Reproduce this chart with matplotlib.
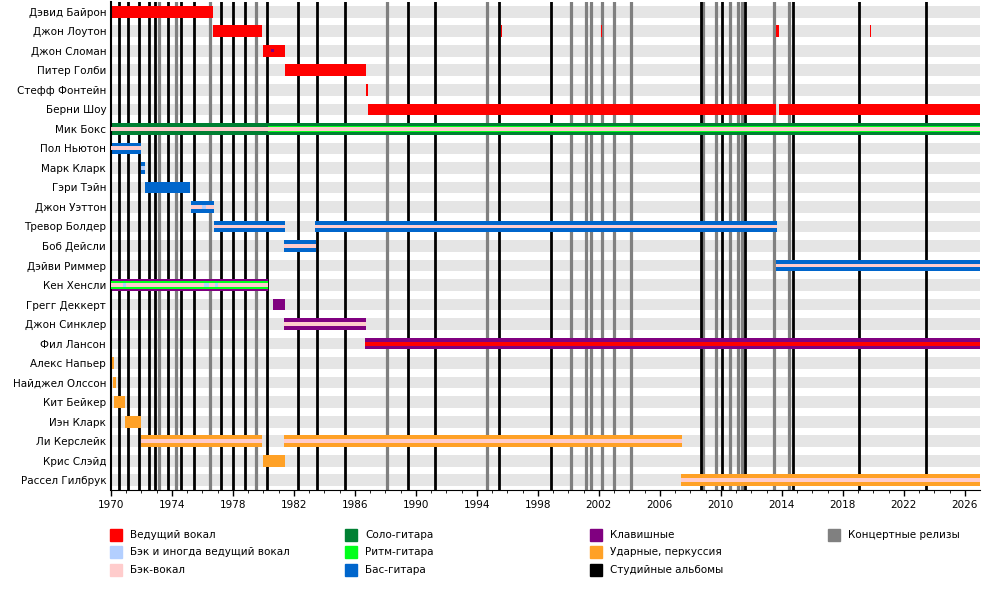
import matplotlib.pyplot as plt
from matplotlib.patches import Rectangle

members = ['Дэвид Байрон', 'Джон Лоутон', 'Джон Сломан', 'Питер Голби', 'Стефф Фонтейн',
           'Берни Шоу', 'Мик Бокс', 'Пол Ньютон', 'Марк Кларк', 'Гэри Тэйн', 'Джон Уэттон',
           'Тревор Болдер', 'Боб Дейсли', 'Дэйви Риммер', 'Кен Хенсли', 'Грегг Деккерт',
           'Джон Синклер', 'Фил Лансон', 'Алекс Напьер', 'Найджел Олссон', 'Кит Бейкер',
           'Иэн Кларк', 'Ли Керслейк', 'Крис Слэйд', 'Рассел Гилбрук']

END = 2027.0
studio = [1970.52, 1971.13, 1971.82, 1972.51, 1972.89, 1973.76, 1974.59, 1975.46, 1977.21,
          1978.02, 1978.80, 1980.25, 1982.28, 1983.52, 1985.38, 1989.49, 1991.26, 1995.45,
          1998.85, 2008.69, 2010.07, 2011.57, 2014.71, 2019.04, 2023.43]
live = [1973.17, 1974.26, 1976.49, 1979.50, 1988.11, 1994.66, 2000.16, 2001.15, 2001.47,
        2002.19, 2002.98, 2004.09, 2008.83, 2009.69, 2010.6, 2011.13, 2011.39, 2013.47, 2014.45]

colors = {
    'lead': '#ff0000', 'leadback': '#b3cfff', 'back': '#ffcccc', 'solo': '#008033',
    'rhythm': '#00ff1a', 'bass': '#0066cc', 'keys': '#800080', 'drums': '#ffa126',
    'live': '#808080', 'studio': '#000000',
}

# (row, start, end, main role, centre stripe)
spans = [
    (0, 1970.0, 1976.69, 'lead', None),
    (1, 1976.69, 1979.9, 'lead', None),
    (1, 1995.42, 1995.47, 'lead', None),
    (1, 1995.6, 1995.65, 'lead', None),
    (1, 2002.15, 2002.2, 'lead', None),
    (1, 2013.6, 2013.8, 'lead', None),
    (1, 2019.8, 2019.85, 'lead', None),
    (2, 1979.97, 1981.4, 'lead', None),
    (3, 1981.4, 1986.7, 'lead', None),
    (4, 1986.7, 1986.85, 'lead', None),
    (5, 1986.85, 2013.6, 'lead', None),
    (5, 2013.8, END, 'lead', None),
    (6, 1970.0, END, 'solo', None),
    (7, 1970.0, 1971.97, 'bass', 'back'),
    (8, 1971.97, 1972.2, 'bass', 'leadback'),
    (9, 1972.2, 1975.2, 'bass', None),
    (10, 1975.25, 1976.75, 'bass', 'back'),
    (11, 1976.75, 1981.4, 'bass', 'back'),
    (11, 1983.4, 2013.7, 'bass', 'back'),
    (12, 1981.35, 1983.45, 'bass', 'back'),
    (13, 2013.65, END, 'bass', 'back'),
    (14, 1970.0, 1980.3, 'keys', None),
    (15, 1980.6, 1981.4, 'keys', None),
    (16, 1981.35, 1986.7, 'keys', 'back'),
    (17, 1986.65, END, 'keys', 'lead'),
    (18, 1970.0, 1970.2, 'drums', None),
    (19, 1970.15, 1970.3, 'drums', None),
    (20, 1970.2, 1970.9, 'drums', None),
    (21, 1970.9, 1971.97, 'drums', None),
    (22, 1971.97, 1979.9, 'drums', 'back'),
    (22, 1981.35, 2007.45, 'drums', 'back'),
    (23, 1979.97, 1981.4, 'drums', None),
    (24, 2007.4, END, 'drums', 'back'),
]
# secondary layers: (row, start, end, role, height)
extras = [
    (6, 1980.3, END, 'rhythm', 0.34),
    (6, 1970.0, END, 'back', 0.17),
    (14, 1970.0, 1980.3, 'rhythm', 0.38),
    (14, 1970.0, 1980.3, 'back', 0.22),
    (14, 1970.8, 1971.0, 'leadback', 0.22),
    (14, 1976.1, 1976.4, 'leadback', 0.22),
    (14, 1976.8, 1977.0, 'leadback', 0.22),
    (10, 1976.0, 1976.2, 'leadback', 0.2),
    (2, 1980.5, 1980.7, 'keys', 0.15),
]

H = 0.6
fig = plt.figure(figsize=(10, 5.95), dpi=100)
ax = fig.add_axes([0.111, 1 - 490 / 595, 0.869, 488 / 595])

for i in range(len(members)):
    ax.barh(i + 0.5, END - 1970, left=1970, height=H, color='#e5e5e5', zorder=0)
for x in live:
    ax.axvline(x, color=colors['live'], lw=2.3, zorder=1)
for x in studio:
    ax.axvline(x, color=colors['studio'], lw=2.0, zorder=1)

for row, s, e, role, centre in spans:
    ax.barh(row + 0.5, e - s, left=s, height=H, color=colors[role], zorder=2, linewidth=0)
    if centre:
        ax.barh(row + 0.5, e - s, left=s, height=H / 3, color=colors[centre], zorder=3, linewidth=0)
for row, s, e, role, h in extras:
    ax.barh(row + 0.5, e - s, left=s, height=h, color=colors[role], zorder=3, linewidth=0)

ax.set_xlim(1970, END)
ax.set_ylim(len(members), 0)
ax.set_yticks([i + 0.5 for i in range(len(members))])
ax.set_yticklabels(members, fontsize=7.5)
ax.tick_params(axis='y', length=0)
ax.set_xticks(range(1970, 2027, 4))
ax.set_xticks(range(1970, 2027), minor=True)
ax.tick_params(axis='x', labelsize=7.5, length=4, width=1)
ax.tick_params(axis='x', which='minor', length=2)
for side in ['top', 'right']:
    ax.spines[side].set_visible(False)
ax.spines['left'].set_linewidth(1.5)

legend = [
    [('Ведущий вокал', 'lead'), ('Бэк и иногда ведущий вокал', 'leadback'), ('Бэк-вокал', 'back')],
    [('Соло-гитара', 'solo'), ('Ритм-гитара', 'rhythm'), ('Бас-гитара', 'bass')],
    [('Клавишные', 'keys'), ('Ударные, перкуссия', 'drums'), ('Студийные альбомы', 'studio')],
    [('Концертные релизы', 'live')],
]
col_x = [110, 345, 590, 828]
row_y = [535, 552, 570]
for cx, col in zip(col_x, legend):
    for ry, (label, role) in zip(row_y, col):
        fig.patches.append(Rectangle((cx / 1000, 1 - (ry + 6) / 595), 12 / 1000, 12 / 595,
                                     transform=fig.transFigure, color=colors[role]))
        fig.text((cx + 20) / 1000, 1 - ry / 595, label, fontsize=7.5, va='center')

fig.savefig('out.png', dpi=100)
